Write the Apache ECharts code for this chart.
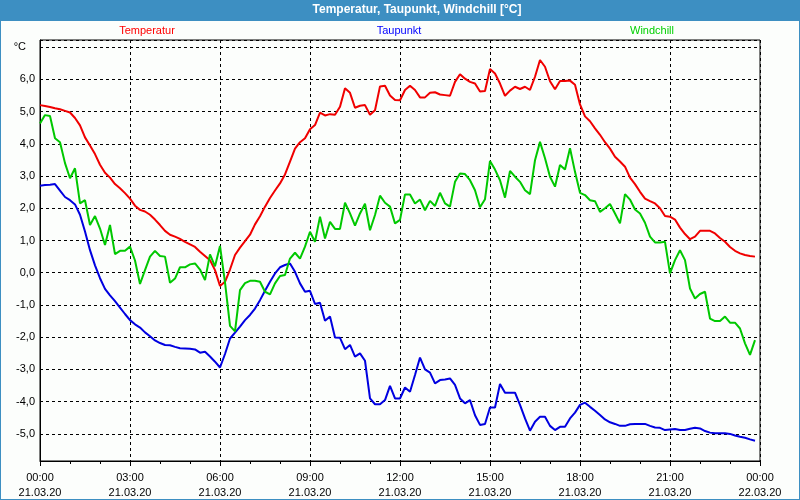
<!DOCTYPE html>
<html>
<head>
<meta charset="utf-8">
<script src="https://cdn.jsdelivr.net/npm/echarts@6/dist/echarts.min.js"></script>
<style>
html,body{margin:0;padding:0;background:#fcfefc;}
#chart{width:800px;height:500px;}
</style>
</head>
<body>
<div id="chart"></div>
<script>
// 10-minute readings, 21.03.20 00:00 .. 23:50
const stepMinutes = 10;

const temperatur = [
  5.20,5.17,5.14,5.10,5.07,5.02,4.97,4.80,4.57,4.20,3.95,3.68,
  3.35,3.10,2.95,2.75,2.62,2.47,2.30,2.08,1.95,1.90,1.80,1.65,
  1.48,1.30,1.18,1.12,1.05,0.96,0.88,0.80,0.65,0.52,0.39,0.08,
  -0.41,-0.28,0.10,0.55,0.78,0.98,1.18,1.50,1.75,2.05,2.32,2.55,
  2.77,3.05,3.45,3.85,4.05,4.17,4.45,4.58,4.97,4.88,4.92,4.90,
  5.15,5.72,5.58,5.12,5.18,5.20,4.90,5.04,5.78,5.80,5.50,5.36,
  5.35,5.67,5.80,5.67,5.44,5.44,5.58,5.60,5.53,5.51,5.49,5.92,
  6.16,6.02,5.92,5.87,5.62,5.64,6.32,6.18,5.87,5.49,5.65,5.77,
  5.70,5.77,5.67,6.08,6.60,6.39,5.94,5.69,5.95,5.95,5.96,5.83,
  5.22,4.85,4.70,4.48,4.28,4.05,3.85,3.60,3.45,3.29,2.95,2.75,
  2.51,2.30,2.22,2.15,2.00,1.76,1.74,1.65,1.40,1.20,1.04,1.12,
  1.30,1.30,1.30,1.22,1.08,0.96,0.80,0.68,0.60,0.55,0.52,0.50
];

const taupunkt = [
  2.70,2.72,2.73,2.75,2.55,2.35,2.25,2.12,1.80,1.28,0.70,0.23,
  -0.17,-0.50,-0.70,-0.88,-1.08,-1.28,-1.47,-1.60,-1.70,-1.85,-1.97,-2.10,
  -2.18,-2.24,-2.25,-2.30,-2.34,-2.35,-2.36,-2.38,-2.48,-2.45,-2.60,-2.76,
  -2.94,-2.52,-2.04,-1.86,-1.67,-1.47,-1.31,-1.11,-0.85,-0.56,-0.28,-0.02,
  0.17,0.24,0.29,0.03,-0.33,-0.59,-0.56,-0.97,-0.93,-1.49,-1.36,-2.01,
  -2.02,-2.37,-2.24,-2.60,-2.50,-2.73,-3.90,-4.08,-4.08,-3.95,-3.51,-3.90,
  -3.90,-3.56,-3.69,-3.17,-2.63,-3.00,-3.10,-3.43,-3.33,-3.31,-3.28,-3.48,
  -3.90,-4.05,-3.95,-4.42,-4.72,-4.69,-4.18,-4.18,-3.45,-3.72,-3.72,-3.72,
  -4.10,-4.52,-4.90,-4.62,-4.47,-4.47,-4.75,-4.88,-4.78,-4.78,-4.52,-4.34,
  -4.10,-4.03,-4.16,-4.28,-4.41,-4.55,-4.64,-4.69,-4.75,-4.75,-4.70,-4.69,
  -4.69,-4.69,-4.75,-4.80,-4.81,-4.88,-4.86,-4.85,-4.88,-4.88,-4.84,-4.81,
  -4.83,-4.91,-4.96,-4.98,-4.98,-4.98,-5.00,-5.05,-5.09,-5.12,-5.17,-5.21
];

const windchill = [
  4.63,4.89,4.86,4.17,4.05,3.40,2.93,3.24,2.15,2.25,1.48,1.76,
  1.37,0.86,1.48,0.58,0.68,0.68,0.81,0.38,-0.35,0.08,0.50,0.68,
  0.52,0.50,-0.31,-0.18,0.17,0.17,0.26,0.29,0.10,-0.23,0.57,0.20,
  0.83,-0.30,-1.65,-1.82,-0.54,-0.32,-0.25,-0.25,-0.28,-0.59,-0.67,-0.33,
  -0.10,-0.07,0.44,0.62,0.44,0.81,1.27,0.96,1.74,1.06,1.58,1.36,
  1.36,2.17,1.84,1.46,1.84,2.14,1.32,1.79,2.39,2.17,2.05,1.53,
  1.64,2.43,2.43,2.15,2.27,1.94,2.23,2.07,2.48,2.15,2.05,2.82,
  3.08,3.06,2.87,2.56,2.03,2.28,3.47,3.20,2.87,2.33,3.16,2.98,
  2.82,2.56,2.44,3.49,4.06,3.55,2.98,2.67,3.34,3.20,3.86,3.13,
  2.48,2.41,2.25,2.22,1.89,2.00,2.13,1.84,1.53,2.44,2.27,1.96,
  1.84,1.55,1.12,0.94,0.94,0.96,-0.02,0.39,0.70,0.39,-0.49,-0.80,
  -0.66,-0.59,-1.42,-1.50,-1.50,-1.36,-1.55,-1.55,-1.73,-2.19,-2.55,-2.09
];

const xTickTimes = ['00:00','03:00','06:00','09:00','12:00','15:00','18:00','21:00','00:00'];
const xTickDates = ['21.03.20','21.03.20','21.03.20','21.03.20','21.03.20','21.03.20','21.03.20','21.03.20','22.03.20'];
const seriesNames = ['Temperatur','Taupunkt','Windchill'];
const seriesColors = ['#f00000','#0000e0','#00c800'];
const legendColors = ['#ff0000','#0000ff','#00d000'];

const FONT = 'Liberation Sans, Arial, sans-serif';
const toPairs = arr => arr.map((v, i) => [i * stepMinutes / 60, v]);

const chart = echarts.init(document.getElementById('chart'), null, {renderer: 'canvas'});

const option = {
  animation: false,
  backgroundColor: '#fcfefc',
  graphic: [
    {type: 'rect', z: -10, shape: {x: 0, y: 0, width: 800, height: 21}, style: {fill: '#3d8fc2'}},
    {type: 'rect', z: 100, shape: {x: 0, y: 0, width: 800, height: 500}, style: {fill: 'none', stroke: '#3d8fc2', lineWidth: 2}}
  ],
  title: [
    {text: 'Temperatur, Taupunkt, Windchill [°C]', left: 417, top: 4, textAlign: 'center', padding: 0,
     textStyle: {color: '#ffffff', fontWeight: 'bold', fontSize: 12, fontFamily: FONT}},
    {text: seriesNames[0], left: 147, top: 25, textAlign: 'center', padding: 0,
     textStyle: {color: legendColors[0], fontWeight: 'normal', fontSize: 11, fontFamily: FONT}},
    {text: seriesNames[1], left: 399, top: 25, textAlign: 'center', padding: 0,
     textStyle: {color: legendColors[1], fontWeight: 'normal', fontSize: 11, fontFamily: FONT}},
    {text: seriesNames[2], left: 652, top: 25, textAlign: 'center', padding: 0,
     textStyle: {color: legendColors[2], fontWeight: 'normal', fontSize: 11, fontFamily: FONT}}
  ],
  grid: {left: 40, right: 40, top: 40, bottom: 39, show: true, borderColor: '#000', borderWidth: 1, backgroundColor: 'transparent'},
  xAxis: {
    type: 'value', min: 0, max: 24, interval: 3,
    axisLine: {show: true, onZero: false, lineStyle: {color: '#000', width: 1}},
    axisTick: {show: true, length: 5, lineStyle: {color: '#000'}},
    minorTick: {show: true, splitNumber: 3, length: 3, lineStyle: {color: '#000'}},
    splitLine: {show: true, lineStyle: {color: '#000', type: [3, 3], width: 1}},
    axisLabel: {
      margin: 9, fontSize: 11, lineHeight: 15, color: '#000', fontFamily: FONT,
      formatter: v => { const k = Math.round(v / 3); return xTickTimes[k] + '\n' + xTickDates[k]; }
    }
  },
  yAxis: {
    type: 'value', min: -5.84, max: 7.22, splitNumber: 13, minInterval: 1, maxInterval: 1,
    axisLine: {show: true, onZero: false, lineStyle: {color: '#000', width: 1}},
    axisTick: {show: false},
    splitLine: {show: true, lineStyle: {color: '#000', type: [3, 3], width: 1}},
    axisLabel: {
      margin: 5, fontSize: 11, color: '#000', fontFamily: FONT,
      showMinLabel: false, showMaxLabel: false,
      formatter: v => {
        const r = Math.round(v);
        if (Math.abs(v - r) > 1e-6) return '';
        if (r === 7) return '{u|°C}';
        return r.toFixed(1).replace('.', ',');
      },
      rich: {u: {fontSize: 11, color: '#000', fontFamily: FONT, padding: [0, 9, 0, 0]}}
    }
  },
  series: [
    {name: seriesNames[0], type: 'line', data: toPairs(temperatur), showSymbol: false, symbol: 'none',
     lineStyle: {color: seriesColors[0], width: 2}, itemStyle: {color: seriesColors[0]}},
    {name: seriesNames[1], type: 'line', data: toPairs(taupunkt), showSymbol: false, symbol: 'none',
     lineStyle: {color: seriesColors[1], width: 2}, itemStyle: {color: seriesColors[1]}},
    {name: seriesNames[2], type: 'line', data: toPairs(windchill), showSymbol: false, symbol: 'none',
     lineStyle: {color: seriesColors[2], width: 2}, itemStyle: {color: seriesColors[2]}}
  ]
};
chart.setOption(option);
</script>
</body>
</html>
